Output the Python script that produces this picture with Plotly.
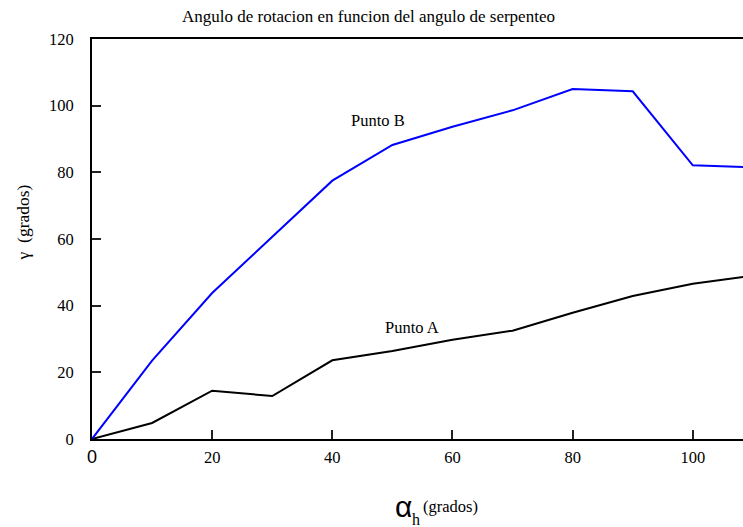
import plotly.graph_objects as go

alpha_h = [0, 10, 20, 30, 40, 50, 60, 70, 80, 90, 100, 110]
punto_b = [0, 23.5, 43.8, 60.6, 77.5, 88.2, 93.7, 98.6, 105.0, 104.3, 82.1, 81.5]
punto_a = [0, 4.8, 14.5, 12.9, 23.6, 26.4, 29.8, 32.5, 37.9, 42.9, 46.6, 49.0]

x_ticks = [0, 20, 40, 60, 80, 100]
x_tick_text = ['<span style="font-family:\'Liberation Sans\';font-size:18px">0</span>',
               "20", "40", "60", "80", "100"]
y_ticks = [0, 20, 40, 60, 80, 100, 120]
y_tick_text = ["0", "20", "40", "60", "80", "100", "120"]

title_text = "Angulo de rotacion en funcion del angulo de serpenteo"
label_b = "Punto B"
label_a = "Punto A"

W, H = 743, 527
L, R, T, B = 92, 0, 38.5, 88.3
pw, ph = W - L - R, H - T - B

def px(x):
    return (x - L) / pw

def py(y):
    return (H - B - y) / ph

serif = "Liberation Serif"

fig = go.Figure()
fig.add_trace(go.Scatter(x=alpha_h, y=punto_a, mode="lines",
                         line=dict(color="black", width=2), showlegend=False))
fig.add_trace(go.Scatter(x=alpha_h, y=punto_b, mode="lines",
                         line=dict(color="#0000ff", width=2), showlegend=False))

annotations = [
    dict(text=title_text, x=px(368), y=py(16), xref="paper", yref="paper",
         showarrow=False, font=dict(family=serif, size=17, color="black"),
         xanchor="center", yanchor="middle"),
    dict(text=label_b, x=47.6, y=95.6, xref="x", yref="y", showarrow=False,
         font=dict(family=serif, size=16.5, color="black"),
         xanchor="center", yanchor="middle"),
    dict(text=label_a, x=53.2, y=33.6, xref="x", yref="y", showarrow=False,
         font=dict(family=serif, size=16.5, color="black"),
         xanchor="center", yanchor="middle"),
    dict(text="γ  (grados)", x=px(23), y=py(222), xref="paper", yref="paper",
         showarrow=False, textangle=-90,
         font=dict(family=serif, size=17.5, color="black"),
         xanchor="center", yanchor="middle"),
    dict(text="α", x=px(403), y=py(506), xref="paper", yref="paper",
         showarrow=False, font=dict(family="Liberation Sans", size=30, color="black"),
         xanchor="center", yanchor="middle"),
    dict(text="h", x=px(415.5), y=py(519), xref="paper", yref="paper",
         showarrow=False, font=dict(family=serif, size=16, color="black"),
         xanchor="center", yanchor="middle"),
    dict(text="(grados)", x=px(450), y=py(506.5), xref="paper", yref="paper",
         showarrow=False, font=dict(family=serif, size=16.5, color="black"),
         xanchor="center", yanchor="middle"),
]

fig.update_layout(
    width=W, height=H, autosize=False,
    margin=dict(l=L, r=R, t=T, b=B, pad=0),
    paper_bgcolor="white", plot_bgcolor="white",
    font=dict(family=serif, size=16.5, color="black"),
    annotations=annotations,
    showlegend=False,
)
fig.update_xaxes(range=[0, (W - L - R) / 6.008], tickvals=x_ticks, ticktext=x_tick_text,
                 ticks="inside", ticklen=9, tickwidth=1.5, tickcolor="#222",
                 showline=True, linecolor="black", linewidth=2, mirror=True,
                 showgrid=False, zeroline=False, ticklabelstandoff=2,
                 tickfont=dict(family=serif, size=16.5, color="black"))
fig.update_yaxes(range=[0, 120], tickvals=y_ticks, ticktext=y_tick_text,
                 ticks="inside", ticklen=9, tickwidth=1.5, tickcolor="#222",
                 showline=True, linecolor="black", linewidth=2,
                 showgrid=False, zeroline=False, ticklabelstandoff=13,
                 tickfont=dict(family=serif, size=16.5, color="black"))

fig.write_html("out.html", config={"displayModeBar": False},
               post_script="document.body.style.margin='0px';document.body.style.overflow='hidden';")
